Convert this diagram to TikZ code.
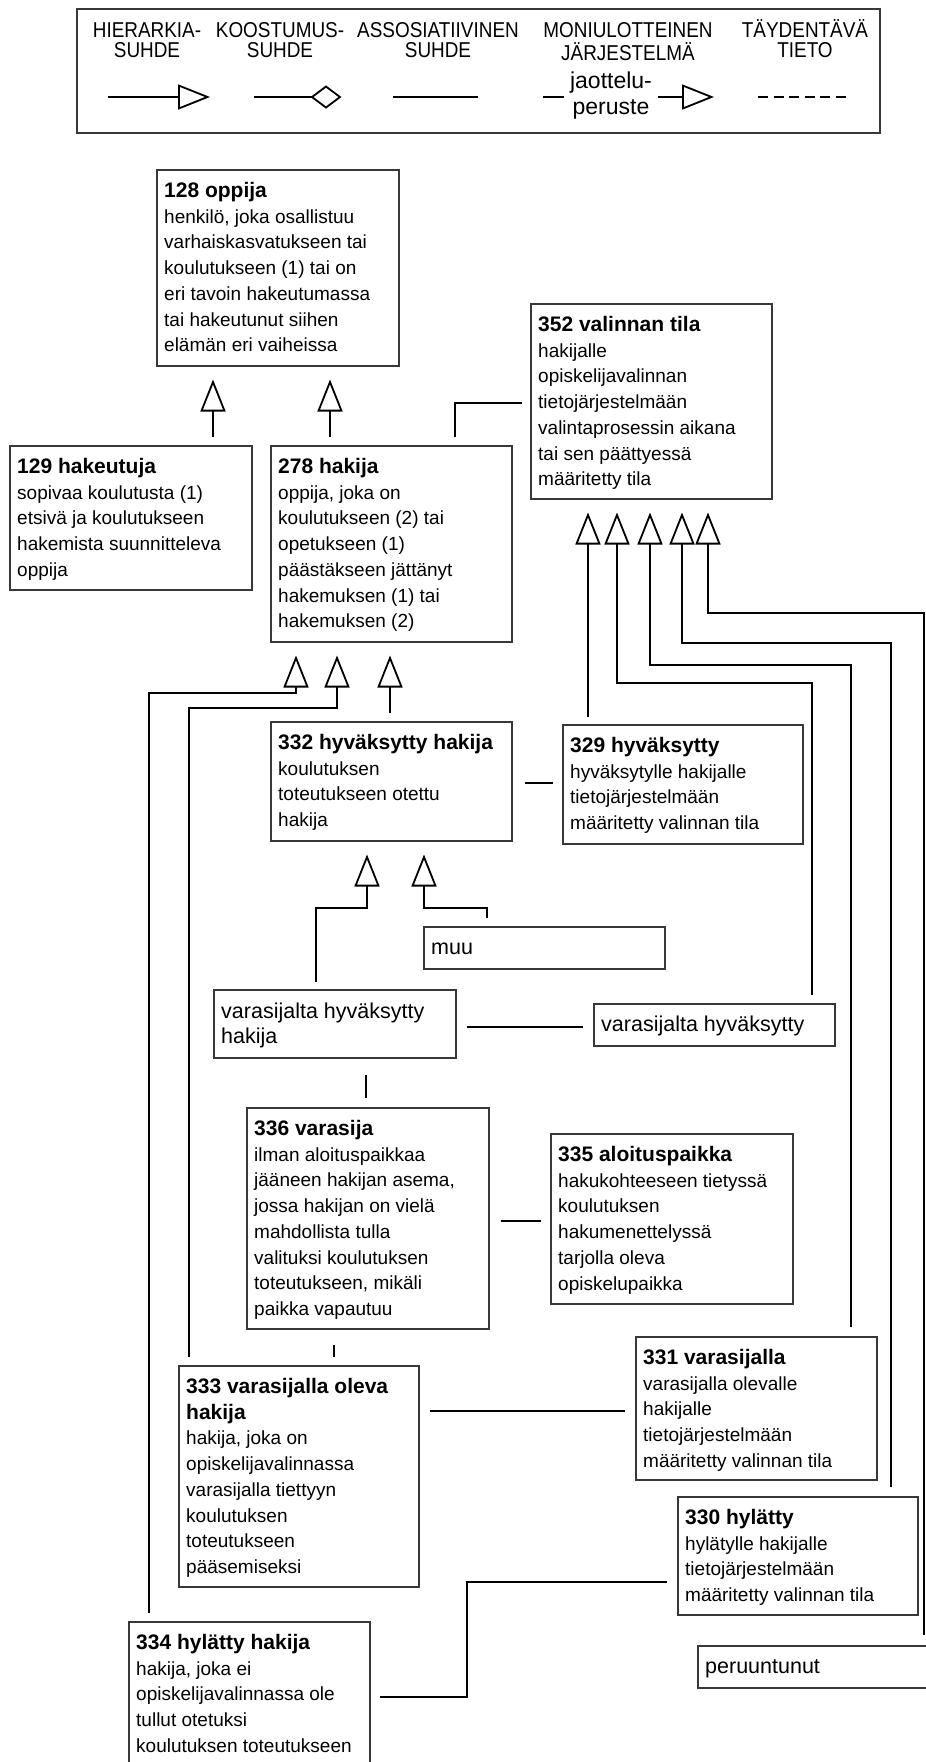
\documentclass[tikz,border=0pt]{standalone}
\usepackage{fontspec}
\setmainfont{Liberation Sans}
\usetikzlibrary{arrows.meta}
\newcommand{\hdr}[1]{{\fontsize{21}{25.7}\selectfont\bfseries #1}}
\newcommand{\tl}[1]{\begin{tabular}[t]{@{}l@{}}#1\end{tabular}}
\newcommand{\tc}[1]{\scalebox{0.88}[1]{\begin{tabular}[t]{@{}c@{}}#1\end{tabular}}}
\begin{document}
\begin{tikzpicture}[x=1pt,y=-1pt,
  box/.style={draw=black!78, line width=1.5pt, inner sep=0pt, anchor=north west},
  txt/.style={anchor=base west, inner sep=0pt, xshift=8pt, yshift=-28.5pt, font=\fontsize{19}{25.7}\selectfont},
  ptxt/.style={anchor=base west, inner sep=0pt, xshift=8pt, font=\fontsize{21.5}{25}\selectfont},
  conn/.style={line width=1.8pt},
  hier/.style={conn, -{Triangle[open, length=32pt, width=25pt]}},
  legtxt/.style={anchor=base, inner sep=0pt, font=\fontsize{21.5}{19}\selectfont},
  jtxt/.style={anchor=base, inner sep=0pt, font=\fontsize{23}{26}\selectfont}]
\useasboundingbox (0,0) rectangle (926,1762);
\clip (0,0) rectangle (926,1762);

% ---------------- legend ----------------
\node[box, minimum width=803pt, minimum height=124pt] (legend) at (76,8) {};
\node[legtxt] (lg1) at (147,37) {\tc{HIERARKIA-\\SUHDE}};
\node[legtxt] (lg2) at (280,37) {\tc{KOOSTUMUS-\\SUHDE}};
\node[legtxt] (lg3) at (438,37) {\tc{ASSOSIATIIVINEN\\SUHDE}};
\node[legtxt] (lg4) at (628,37) {\tc{MONIULOTTEINEN\\JÄRJESTELMÄ}};
\node[legtxt] (lg5) at (805,37) {\tc{TÄYDENTÄVÄ\\TIETO}};
\node[jtxt] (lg6) at (611,88) {\begin{tabular}[t]{@{}c@{}}jaottelu-\\peruste\end{tabular}};
\coordinate (h1) at (108,97); \coordinate (h2) at (210,97);
\coordinate (k1) at (254,97); \coordinate (k2) at (312,97);
\coordinate (k3) at (326,86.5); \coordinate (k4) at (340,97); \coordinate (k5) at (326,107.5);
\coordinate (a1) at (393,97); \coordinate (a2) at (478,97);
\coordinate (m1) at (543,97); \coordinate (m2) at (564,97);
\coordinate (m3) at (658,97); \coordinate (m4) at (714,97);
\coordinate (d1) at (758,97); \coordinate (d2) at (849,97);
\draw[hier] (h1) -- (h2);
\draw[conn] (k1) -- (k2);
\draw[conn, line join=miter] (k2) -- (k3) -- (k4) -- (k5) -- cycle;
\draw[conn] (a1) -- (a2);
\draw[conn] (m1) -- (m2);
\draw[hier] (m3) -- (m4);
\draw[conn, dash pattern=on 10pt off 5.5pt] (d1) -- (d2);

% ---------------- boxes ----------------
\node[box, minimum width=242pt, minimum height=196pt] (b128) at (156,169) {};
\node[box, minimum width=242pt, minimum height=144pt] (b129) at (9,445) {};
\node[box, minimum width=241pt, minimum height=196pt] (b278) at (270,445) {};
\node[box, minimum width=241pt, minimum height=195pt] (b352) at (530,303) {};
\node[box, minimum width=241pt, minimum height=119pt] (b332) at (270,721) {};
\node[box, minimum width=240pt, minimum height=119pt] (b329) at (562,724) {};
\node[box, minimum width=241pt, minimum height=42pt] (bmuu) at (423,926) {};
\node[box, minimum width=242pt, minimum height=68pt] (bvhh) at (213,989) {};
\node[box, minimum width=241pt, minimum height=42pt] (bvh) at (593,1003) {};
\node[box, minimum width=242pt, minimum height=221pt] (b336) at (246,1107) {};
\node[box, minimum width=242pt, minimum height=170pt] (b335) at (550,1133) {};
\node[box, minimum width=241pt, minimum height=143pt] (b331) at (635,1336) {};
\node[box, minimum width=240pt, minimum height=221pt] (b333) at (178,1365) {};
\node[box, minimum width=240pt, minimum height=118pt] (b330) at (677,1496) {};
\node[box, minimum width=241pt, minimum height=42pt] (bper) at (697,1645) {};
\node[box, minimum width=241pt, minimum height=160pt] (b334) at (128,1621) {};

% ---------------- texts ----------------
\node[txt] (t128) at (b128.north west) {\tl{\hdr{128 oppija}\\henkilö, joka osallistuu\\varhaiskasvatukseen tai\\koulutukseen (1) tai on\\eri tavoin hakeutumassa\\tai hakeutunut siihen\\elämän eri vaiheissa}};
\node[txt] (t129) at (b129.north west) {\tl{\hdr{129 hakeutuja}\\sopivaa koulutusta (1)\\etsivä ja koulutukseen\\hakemista suunnitteleva\\oppija}};
\node[txt] (t278) at (b278.north west) {\tl{\hdr{278 hakija}\\oppija, joka on\\koulutukseen (2) tai\\opetukseen (1)\\päästäkseen jättänyt\\hakemuksen (1) tai\\hakemuksen (2)}};
\node[txt] (t352) at (b352.north west) {\tl{\hdr{352 valinnan tila}\\hakijalle\\opiskelijavalinnan\\tietojärjestelmään\\valintaprosessin aikana\\tai sen päättyessä\\määritetty tila}};
\node[txt] (t332) at (b332.north west) {\tl{\hdr{332 hyväksytty hakija}\\koulutuksen\\toteutukseen otettu\\hakija}};
\node[txt] (t329) at (b329.north west) {\tl{\hdr{329 hyväksytty}\\hyväksytylle hakijalle\\tietojärjestelmään\\määritetty valinnan tila}};
\node[ptxt, yshift=-7pt] (tmuu) at (bmuu.west) {muu};
\node[ptxt, yshift=-29pt] (tvhh) at (bvhh.north west) {\tl{varasijalta hyväksytty\\hakija}};
\node[ptxt, yshift=-7pt] (tvh) at (bvh.west) {varasijalta hyväksytty};
\node[txt] (t336) at (b336.north west) {\tl{\hdr{336 varasija}\\ilman aloituspaikkaa\\jääneen hakijan asema,\\jossa hakijan on vielä\\mahdollista tulla\\valituksi koulutuksen\\toteutukseen, mikäli\\paikka vapautuu}};
\node[txt] (t335) at (b335.north west) {\tl{\hdr{335 aloituspaikka}\\hakukohteeseen tietyssä\\koulutuksen\\hakumenettelyssä\\tarjolla oleva\\opiskelupaikka}};
\node[txt] (t331) at (b331.north west) {\tl{\hdr{331 varasijalla}\\varasijalla olevalle\\hakijalle\\tietojärjestelmään\\määritetty valinnan tila}};
\node[txt] (t333) at (b333.north west) {\tl{\hdr{333 varasijalla oleva}\\\hdr{hakija}\\hakija, joka on\\opiskelijavalinnassa\\varasijalla tiettyyn\\koulutuksen\\toteutukseen\\pääsemiseksi}};
\node[txt] (t330) at (b330.north west) {\tl{\hdr{330 hylätty}\\hylätylle hakijalle\\tietojärjestelmään\\määritetty valinnan tila}};
\node[ptxt, yshift=-7pt] (tper) at (bper.west) {peruuntunut};
\node[txt] (t334) at (b334.north west) {\tl{\hdr{334 hylätty hakija}\\hakija, joka ei\\opiskelijavalinnassa ole\\tullut otetuksi\\koulutuksen toteutukseen}};

% ---------------- lane coordinates ----------------
\coordinate (v149) at (149,0); \coordinate (v189) at (189,0);
\coordinate (v213) at (213,0); \coordinate (v296) at (296,0);
\coordinate (v316) at (316,0); \coordinate (v330) at (330,0);
\coordinate (v334) at (334,0); \coordinate (v337) at (337,0);
\coordinate (v366) at (366,0); \coordinate (v367) at (367,0);
\coordinate (v390) at (390,0); \coordinate (v424) at (424,0);
\coordinate (v455) at (455,0); \coordinate (v487) at (487,0);
\coordinate (v588) at (588,0); \coordinate (v617) at (617,0);
\coordinate (v650) at (650,0); \coordinate (v682) at (682,0);
\coordinate (v708) at (708,0); \coordinate (v812) at (812,0);
\coordinate (v851) at (851,0); \coordinate (v891) at (891,0);
\coordinate (v924) at (924,0);
\coordinate (h403) at (0,403); \coordinate (h783) at (0,783);
\coordinate (h1027) at (0,1027); \coordinate (h1221) at (0,1221);
\coordinate (h1411) at (0,1411); \coordinate (h1697) at (0,1697);
\coordinate (h1582) at (0,1582);

% ---------------- hierarchy connectors ----------------
\draw[hier, shorten <=8pt, shorten >=13pt] (b129.north -| v213) -- (b128.south -| v213);
\draw[hier, shorten <=8pt, shorten >=13pt] (b278.north -| v330) -- (b128.south -| v330);
\draw[hier, shorten <=8pt, shorten >=13pt] (b332.north -| v390) -- (b278.south -| v390);
\draw[hier, shorten <=8pt, shorten >=13pt] (b334.north -| v149) -- (149,693) -- (296,693) -- (b278.south -| v296);
\draw[hier, shorten <=8pt, shorten >=13pt] (b333.north -| v189) -- (189,708) -- (337,708) -- (b278.south -| v337);
\draw[hier, shorten <=7pt, shorten >=13pt] (b329.north -| v588) -- (b352.south -| v588);
\draw[hier, shorten <=8pt, shorten >=13pt] (bvh.north -| v812) -- (812,683) -- (617,683) -- (b352.south -| v617);
\draw[hier, shorten <=9pt, shorten >=13pt] (b331.north -| v851) -- (851,665) -- (650,665) -- (b352.south -| v650);
\draw[hier, shorten <=9pt, shorten >=13pt] (b330.north -| v891) -- (891,643) -- (682,643) -- (b352.south -| v682);
\draw[hier, shorten <=10pt, shorten >=13pt] (bper.north -| v924) -- (924,613) -- (708,613) -- (b352.south -| v708);
\draw[hier, shorten <=7pt, shorten >=13pt] (bvhh.north -| v316) -- (316,908) -- (367,908) -- (b332.south -| v367);
\draw[hier, shorten <=8pt, shorten >=13pt] (bmuu.north -| v487) -- (487,908) -- (424,908) -- (b332.south -| v424);

% ---------------- association connectors ----------------
\draw[conn, shorten <=8pt, shorten >=8pt] (b278.north -| v455) -- (455,403) -- (b352.west |- h403);
\draw[conn, shorten <=12pt, shorten >=9pt] (b332.east |- h783) -- (b329.west |- h783);
\draw[conn, shorten <=10pt, shorten >=10pt] (bvhh.east |- h1027) -- (bvh.west |- h1027);
\draw[conn, shorten <=16pt, shorten >=9pt] (bvhh.south -| v366) -- (b336.north -| v366);
\draw[conn, shorten <=11pt, shorten >=9pt] (b336.east |- h1221) -- (b335.west |- h1221);
\draw[conn, shorten <=15pt, shorten >=8pt] (b336.south -| v334) -- (b333.north -| v334);
\draw[conn, shorten <=10pt, shorten >=10pt] (b333.east |- h1411) -- (b331.west |- h1411);
\draw[conn, shorten <=9pt, shorten >=10pt] (b334.east |- h1697) -- (467,1697) -- (467,1582) -- (b330.west |- h1582);
\end{tikzpicture}
\end{document}
